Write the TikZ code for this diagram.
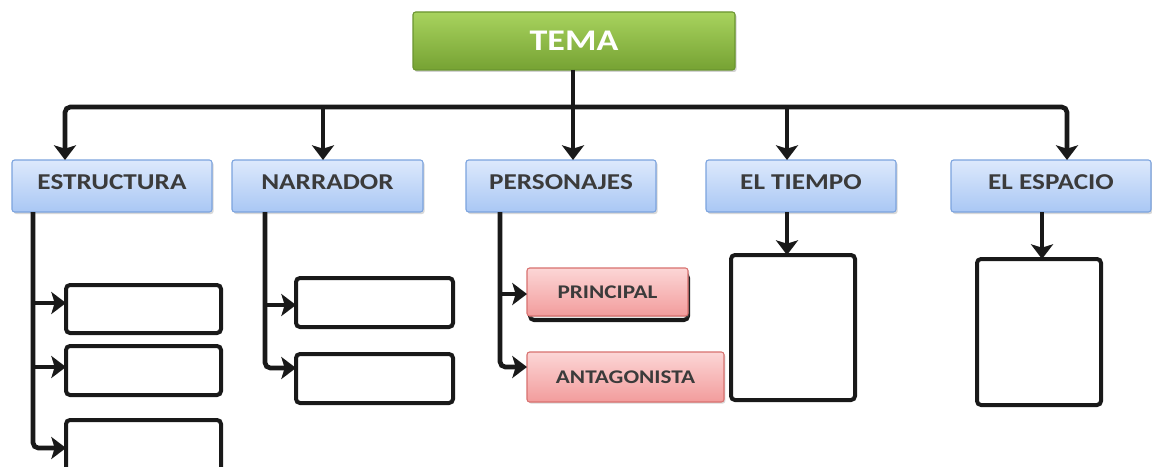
\documentclass[tikz,border=0pt]{standalone}
\usepackage{fontspec}
\setmainfont{Carlito}[FakeStretch=1.2]
\usetikzlibrary{arrows.meta,shadows}
\definecolor{txtgray}{HTML}{3B3B3B}
\definecolor{gtop}{HTML}{A8D35E}
\definecolor{gbot}{HTML}{76A233}
\definecolor{gbrd}{HTML}{6A9530}
\definecolor{btop}{HTML}{DDE9FC}
\definecolor{bbot}{HTML}{A9C7F4}
\definecolor{bbrd}{HTML}{7BA3DE}
\definecolor{rtop}{HTML}{FCD6D6}
\definecolor{rbot}{HTML}{F29C9C}
\definecolor{rbrd}{HTML}{D8716F}
\tikzset{
  sz/.style 2 args={minimum width=#1*0.75pt, minimum height=#2*0.75pt},
  basebox/.style={rectangle, inner sep=0pt, outer sep=0pt, rounded corners=2pt, font=\bfseries},
  temabox/.style={basebox, draw=gbrd, line width=0.8pt, top color=gtop, bottom color=gbot,
     text=white, font=\bfseries\fontsize{22.5}{24}\selectfont,
     drop shadow={shadow xshift=1.2pt, shadow yshift=-1.5pt, opacity=0.35}},
  bluebox/.style={basebox, draw=bbrd, line width=0.8pt, top color=btop, bottom color=bbot,
     text=txtgray, font=\bfseries\fontsize{17}{18}\selectfont, text depth=6pt,
     drop shadow={shadow xshift=1.2pt, shadow yshift=-1.5pt, opacity=0.3}},
  redbox/.style={basebox, draw=rbrd, line width=0.8pt, top color=rtop, bottom color=rbot,
     text=txtgray, font=\bfseries\fontsize{14.5}{16}\selectfont,
     drop shadow={shadow xshift=1pt, shadow yshift=-1.2pt, opacity=0.3}},
  emptybox/.style={rectangle, inner sep=0pt, outer sep=0pt, rounded corners=3pt,
     draw=black!90, line width=3pt, fill=white},
  conn/.style={draw=black!90, line width=3.5pt, rounded corners=4pt},
  arr/.style={conn, -{Stealth[length=11pt, width=16.5pt, inset=2.5pt]}},
}
\begin{document}
\begin{tikzpicture}[x=0.75pt, y=-0.75pt]
\clip (0,0) rectangle (1152,467);
\fill[white] (0,0) rectangle (1152,467);

% top node
\node[temabox, sz={322}{58}] (tema) at (574,41) {TEMA};

% second level
\node[bluebox, sz={200}{52}] (estr) at (112,186) {ESTRUCTURA};
\node[bluebox, sz={191}{52}] (narr) at (327.5,186) {NARRADOR};
\node[bluebox, sz={190}{52}] (pers) at (561,186) {PERSONAJES};
\node[bluebox, sz={190}{52}] (tiem) at (801,186) {EL TIEMPO};
\node[bluebox, sz={200}{52}] (espa) at (1051,186) {EL ESPACIO};

% bar coordinates
\coordinate (b1) at (65,107);
\coordinate (b2) at (323,107);
\coordinate (b3) at (573,107);
\coordinate (b4) at (787,107);
\coordinate (b5) at (1067,107);

\draw[conn] (tema.south -| b3) -- (b3);
\draw[arr] (b3) -| (estr.north -| b1);
\draw[arr] (b3) -| (espa.north -| b5);
\draw[arr] (b2) -- (narr.north -| b2);
\draw[arr] (b3) -- (pers.north -| b3);
\draw[arr] (b4) -- (tiem.north -| b4);

% ESTRUCTURA children
\node[emptybox, sz={155}{48}] (e1) at (143.5,309) {};
\node[emptybox, sz={155}{49}] (e2) at (143.5,370.5) {};
\node[emptybox, sz={155}{54}] (e3) at (143.5,447) {};
\coordinate (ex) at (33,0);
\coordinate (ey1) at (0,303);
\coordinate (ey2) at (0,367);
\coordinate (ey3) at (0,448);
\draw[arr] (estr.south -| ex) |- (e3.west |- ey3);
\draw[arr] (ex |- ey1) -- (e1.west |- ey1);
\draw[arr] (ex |- ey2) -- (e2.west |- ey2);

% NARRADOR children
\node[emptybox, sz={157}{49}] (n1) at (374.5,302.5) {};
\node[emptybox, sz={157}{49}] (n2) at (374.5,378.5) {};
\coordinate (nx) at (265,0);
\coordinate (ny1) at (0,305);
\coordinate (ny2) at (0,368);
\draw[arr] (narr.south -| nx) |- (n2.west |- ny2);
\draw[arr] (nx |- ny1) -- (n1.west |- ny1);

% PERSONAJES children
\node[emptybox, sz={158}{46}] (pshadow) at (609,297) {};
\node[redbox, sz={161}{48}] (prin) at (607.5,292) {PRINCIPAL};
\node[redbox, sz={197}{50}] (anta) at (625.5,377) {ANTAGONISTA};
\coordinate (px) at (500,0);
\coordinate (py1) at (0,294);
\coordinate (py2) at (0,367);
\draw[arr] (pers.south -| px) |- (anta.west |- py2);
\draw[arr] (px |- py1) -- (prin.west |- py1);

% EL TIEMPO / EL ESPACIO children
\node[emptybox, sz={124}{145}] (t1) at (793,327.5) {};
\node[emptybox, sz={124}{146}] (s1) at (1039,332) {};
\coordinate (tx) at (787,0);
\coordinate (sx) at (1042,0);
\draw[arr] (tiem.south -| tx) -- (t1.north -| tx);
\draw[arr] (espa.south -| sx) -- (s1.north -| sx);
\end{tikzpicture}
\end{document}
